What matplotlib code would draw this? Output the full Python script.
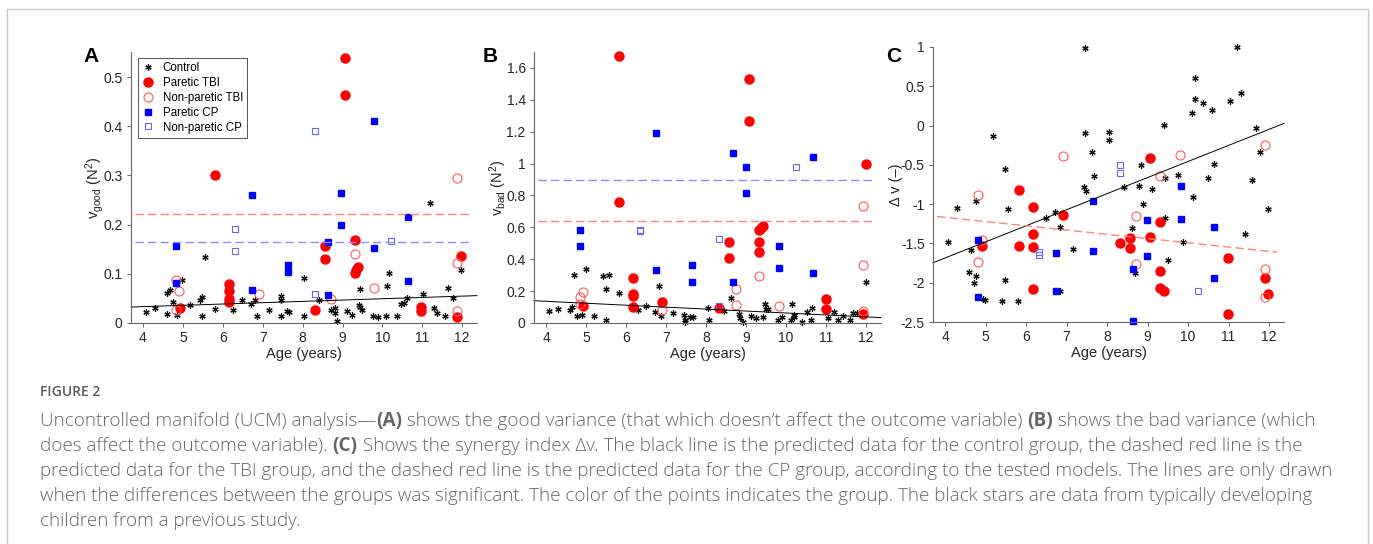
import numpy as np
import matplotlib
matplotlib.use("Agg")
import matplotlib.pyplot as plt
from matplotlib.ticker import FuncFormatter
from matplotlib.patches import Rectangle

plt.rcParams['font.family'] = ['Liberation Sans', 'DejaVu Sans']
plt.rcParams['mathtext.default'] = 'regular'
plt.rcParams['axes.unicode_minus'] = False

# ---------------- panel A : v_good ----------------
a_ctrl_age = [4.08, 4.29, 4.61, 4.68, 4.75, 4.61, 4.86, 4.99, 5.19, 5.42, 5.49, 5.49, 5.55, 5.80, 6.25,
              6.48, 6.70, 6.81, 6.86, 7.15, 7.45, 7.45, 7.47, 7.61, 7.66, 8.03, 8.03, 8.42, 8.70, 8.80,
              8.82, 8.87, 9.10, 9.23, 9.41, 9.44, 9.50, 9.44, 9.76, 9.89, 10.10, 10.11, 10.16, 10.36,
              10.47, 10.55, 10.61, 11.01, 11.18, 11.28, 11.37, 11.57, 11.64, 11.77, 11.96]
a_ctrl_val = [0.022, 0.030, 0.060, 0.068, 0.043, 0.019, 0.017, 0.087, 0.037, 0.047, 0.053, 0.015, 0.135,
              0.029, 0.027, 0.047, 0.039, 0.046, 0.014, 0.026, 0.054, 0.046, 0.014, 0.024, 0.022, 0.092,
              0.014, 0.046, 0.026, 0.030, 0.020, 0.005, 0.024, 0.017, 0.037, 0.033, 0.027, 0.070, 0.015,
              0.012, 0.015, 0.075, 0.102, 0.014, 0.039, 0.041, 0.051, 0.058, 0.245, 0.030, 0.020, 0.014,
              0.071, 0.051, 0.108]
a_ptbi_age = [9.05, 9.05, 5.81, 6.15, 6.15, 6.15, 6.15, 4.92, 8.56, 8.56, 9.31, 9.31, 9.39, 9.34, 8.31,
              10.96, 10.96, 11.96, 11.87]
a_ptbi_val = [0.539, 0.463, 0.300, 0.080, 0.066, 0.049, 0.043, 0.031, 0.157, 0.130, 0.168, 0.102, 0.114,
              0.107, 0.027, 0.033, 0.024, 0.136, 0.012]
a_ntbi_age = [4.82, 4.90, 4.82, 6.90, 8.72, 9.31, 9.80, 11.87, 11.87, 11.87]
a_ntbi_val = [0.088, 0.065, 0.027, 0.058, 0.049, 0.140, 0.071, 0.295, 0.121, 0.024]
a_pcp_age = [4.82, 4.82, 6.73, 6.73, 7.64, 7.64, 8.63, 8.63, 8.97, 8.97, 9.80, 9.80, 10.63, 10.63]
a_pcp_val = [0.157, 0.081, 0.260, 0.067, 0.118, 0.103, 0.165, 0.057, 0.265, 0.200, 0.411, 0.152, 0.215, 0.085]
a_ncp_age = [6.31, 6.31, 8.31, 8.31, 10.21]
a_ncp_val = [0.192, 0.147, 0.390, 0.059, 0.167]
a_ctrl_fit = [0.0226, 0.00267]      # intercept, slope
a_tbi_mean = 0.2215
a_cp_mean = 0.1646

# ---------------- panel B : v_bad ----------------
b_ctrl_age = [4.08, 4.31, 4.61, 4.65, 4.71, 4.78, 4.90, 5.00, 5.21, 5.42, 5.50, 5.51, 5.57, 5.82, 6.29,
              6.50, 6.72, 6.83, 6.87, 7.17, 7.46, 7.48, 7.48, 7.60, 7.67, 8.05, 8.06, 8.45, 8.63, 8.81,
              8.84, 8.91, 9.13, 9.24, 9.43, 9.47, 9.49, 9.54, 9.80, 9.90, 10.11, 10.14, 10.20, 10.20,
              10.40, 10.52, 10.64, 10.62, 11.05, 11.20, 11.30, 11.41, 11.60, 11.67, 11.77, 12.00]
b_ctrl_val = [0.073, 0.090, 0.084, 0.100, 0.304, 0.046, 0.052, 0.339, 0.046, 0.293, 0.021, 0.214, 0.304,
              0.186, 0.084, 0.107, 0.069, 0.230, 0.042, 0.063, 0.052, 0.021, 0.006, 0.038, 0.038, 0.094,
              0.021, 0.073, 0.159, 0.054, 0.034, 0.006, 0.042, 0.031, 0.038, 0.117, 0.088, 0.088, 0.021,
              0.038, 0.017, 0.119, 0.048, 0.038, 0.006, 0.069, 0.094, 0.021, 0.034, 0.069, 0.021, 0.042,
              0.021, 0.063, 0.063, 0.260]
b_ptbi_age = [5.83, 5.83, 6.17, 6.17, 6.17, 6.17, 4.92, 6.91, 8.33, 8.57, 8.57, 9.08, 9.08, 9.33, 9.41,
              9.37, 9.33, 9.33, 11.00, 11.00, 12.00, 11.91]
b_ptbi_val = [1.677, 0.758, 0.283, 0.180, 0.170, 0.100, 0.107, 0.130, 0.092, 0.505, 0.410, 1.529, 1.267,
              0.582, 0.609, 0.595, 0.507, 0.444, 0.149, 0.086, 0.997, 0.054]
b_ntbi_age = [4.84, 4.93, 4.84, 6.91, 8.75, 8.75, 9.33, 9.83, 11.91, 11.91, 11.91]
b_ntbi_val = [0.163, 0.193, 0.117, 0.084, 0.214, 0.115, 0.297, 0.109, 0.731, 0.366, 0.075]
b_pcp_age = [4.84, 4.84, 6.75, 6.75, 7.66, 7.66, 8.66, 8.66, 9.00, 9.00, 9.83, 9.83, 10.66, 10.66]
b_pcp_val = [0.584, 0.482, 1.192, 0.335, 0.364, 0.255, 1.068, 0.255, 0.976, 0.817, 0.484, 0.343, 1.041, 0.312]
b_ncp_age = [6.34, 6.34, 8.33, 8.33, 10.25]
b_ncp_val = [0.586, 0.578, 0.528, 0.109, 0.980]
b_ctrl_fit = [0.185, -0.01222]
b_tbi_mean = 0.637
b_cp_mean = 0.894

# ---------------- panel C : synergy index ----------------
c_ctrl_age = [4.07, 4.30, 4.63, 4.59, 4.71, 4.75, 4.77, 4.94, 4.99, 5.19, 5.48, 5.49, 5.56, 5.41, 5.81,
              6.49, 6.71, 6.84, 6.83, 7.15, 7.45, 7.45, 7.44, 7.48, 7.62, 7.67, 8.04, 8.04, 8.42, 8.62,
              8.69, 8.79, 8.84, 8.88, 9.12, 9.41, 9.44, 9.44, 9.51, 9.76, 9.88, 10.10, 10.13, 10.17,
              10.17, 10.37, 10.50, 10.59, 10.63, 11.03, 11.20, 11.30, 11.40, 11.58, 11.67, 11.78, 11.98]
c_ctrl_val = [-1.483, -1.047, -1.589, -1.860, -2.000, -1.919, -0.962, -2.212, -2.220, -0.136, -0.547,
              -1.970, -1.064, -2.237, -2.229, -1.178, -1.097, -1.292, -2.110, -1.568, 0.992, -0.093,
              -0.780, -0.831, -0.339, -0.636, -0.085, -0.186, -0.784, -1.305, -1.877, -0.763, -0.496,
              -0.996, -0.801, 0.013, -0.669, -1.182, -1.712, -0.623, -1.487, 0.165, -0.903, 0.606,
              0.339, 0.284, -0.669, 0.199, -0.483, 0.318, 1.000, 0.419, -1.377, -0.695, -0.025,
              -0.331, -1.059]
c_ptbi_age = [5.83, 6.16, 6.16, 6.16, 5.83, 4.91, 6.16, 6.90, 8.32, 8.56, 8.56, 9.07, 9.07, 9.31, 9.31,
              9.31, 9.40, 10.98, 10.98, 11.89, 11.97]
c_ptbi_val = [-0.818, -1.038, -1.386, -1.551, -1.538, -1.530, -2.076, -1.136, -1.496, -1.428, -1.564,
              -0.419, -1.415, -1.229, -1.852, -2.064, -2.106, -1.691, -2.398, -1.941, -2.144]
c_ntbi_age = [4.82, 4.91, 4.82, 6.90, 8.72, 8.72, 9.31, 9.81, 11.89, 11.89, 11.89]
c_ntbi_val = [-0.886, -1.462, -1.733, -0.381, -1.148, -1.767, -0.644, -0.377, -0.250, -1.822, -2.186]
c_pcp_age = [4.82, 4.82, 6.73, 6.73, 7.66, 7.66, 8.65, 8.65, 8.98, 8.98, 9.82, 9.82, 10.65, 10.65]
c_pcp_val = [-1.453, -2.186, -1.627, -2.106, -0.958, -1.602, -1.822, -2.487, -1.208, -1.657, -0.767,
             -1.195, -1.288, -1.945]
c_ncp_age = [8.32, 8.32, 6.32, 6.32, 10.24]
c_ncp_val = [-0.496, -0.610, -1.610, -1.653, -2.102]
c_ctrl_fit = [-2.503, 0.2046]
c_tbi_fit = [-0.952, -0.054]

caption_lines = [
    [("Uncontrolled manifold (UCM) analysis\u2014", False), ("(A)", True),
     (" shows the good variance (that which doesn\u2019t affect the outcome variable) ", False), ("(B)", True),
     (" shows the bad variance (which", False)],
    [("does affect the outcome variable). ", False), ("(C)", True),
     (" Shows the synergy index \u0394v. The black line is the predicted data for the control group, the dashed red line is the", False)],
    [("predicted data for the TBI group, and the dashed red line is the predicted data for the CP group, according to the tested models. The lines are only drawn", False)],
    [("when the differences between the groups was significant. The color of the points indicates the group. The black stars are data from typically developing", False)],
    [("children from a previous study.", False)],
]

##########################################################################

RED = (1, 0, 0)
RED_L = (1, 0.35, 0.35)
BLUE = (0, 0, 1)
BLUE_L = (0.4, 0.4, 1)
XLIM = (3.7, 12.37)
DASH_X = np.array([3.8, 12.2])
ASTERISK = (6, 2, 0)


def draw_groups(ax, ctrl, ptbi, ntbi, pcp, ncp):
    ax.plot(ctrl[0], ctrl[1], ls='none', marker=ASTERISK, color='#111111', ms=4.5, mew=0.9, label='Control')
    ax.plot(ptbi[0], ptbi[1], 'o', color=RED, ms=6.5, ls='none', label='Paretic TBI')
    ax.plot(ntbi[0], ntbi[1], 'o', mfc='none', mec=RED_L, ms=6.5, mew=0.8, ls='none', label='Non-paretic TBI')
    ax.plot(pcp[0], pcp[1], 's', color=BLUE, ms=5, ls='none', label='Paretic CP')
    ax.plot(ncp[0], ncp[1], 's', mfc='none', mec=BLUE_L, ms=5, mew=0.8, ls='none', label='Non-paretic CP')


def style(ax, ylabel):
    ax.set_xlim(*XLIM)
    ax.set_xticks(range(4, 13))
    for s in ['top', 'right']:
        ax.spines[s].set_visible(False)
    for s in ['left', 'bottom']:
        ax.spines[s].set_color('#666666')
        ax.spines[s].set_linewidth(0.8)
    ax.tick_params(direction='out', length=3, width=0.7, color='#666666', labelsize=10, labelcolor='#262626', pad=3)
    ax.set_xlabel('Age (years)', fontsize=10.5, color='#262626', labelpad=1)
    ax.set_ylabel(ylabel, fontsize=10.5, color='#262626', labelpad=-2)
    ax.yaxis.set_major_formatter(FuncFormatter(lambda v, p: '%g' % round(v, 3)))


fig = plt.figure(figsize=(13.73, 5.44), dpi=100)
W, H = 1373.0, 544.0

def axes_px(l, t, r, b):
    return fig.add_axes([l / W, 1 - b / H, (r - l) / W, (b - t) / H])

xs = np.array(XLIM)

# Panel A
axA = axes_px(131, 52, 477, 323)
draw_groups(axA, (a_ctrl_age, a_ctrl_val), (a_ptbi_age, a_ptbi_val), (a_ntbi_age, a_ntbi_val),
            (a_pcp_age, a_pcp_val), (a_ncp_age, a_ncp_val))
axA.plot(xs, a_ctrl_fit[0] + a_ctrl_fit[1] * xs, color='k', lw=0.7)
axA.plot(DASH_X, [a_tbi_mean] * 2, '--', color=(1, 0.5, 0.5), lw=1, dashes=(6, 3))
axA.plot(DASH_X, [a_cp_mean] * 2, '--', color=(0.55, 0.55, 1), lw=1, dashes=(6, 3))
axA.set_ylim(0, 0.551)
axA.set_yticks(np.arange(0, 0.51, 0.1))
style(axA, 'v$_{good}$ (N$^2$)')
leg = axA.legend(loc='upper left', bbox_to_anchor=(0.02, 0.978), fontsize=8.3, frameon=True, fancybox=False,
                 edgecolor='#262626', handletextpad=0.7, borderpad=0.35, labelspacing=0.25,
                 handlelength=1.1, borderaxespad=0)
leg.get_frame().set_linewidth(0.7)

# Panel B
axB = axes_px(534, 52, 881, 323)
draw_groups(axB, (b_ctrl_age, b_ctrl_val), (b_ptbi_age, b_ptbi_val), (b_ntbi_age, b_ntbi_val),
            (b_pcp_age, b_pcp_val), (b_ncp_age, b_ncp_val))
axB.plot(xs, b_ctrl_fit[0] + b_ctrl_fit[1] * xs, color='k', lw=0.7)
axB.plot(DASH_X, [b_tbi_mean] * 2, '--', color=(1, 0.5, 0.5), lw=1, dashes=(6, 3))
axB.plot(DASH_X, [b_cp_mean] * 2, '--', color=(0.55, 0.55, 1), lw=1, dashes=(6, 3))
axB.set_ylim(0, 1.7)
axB.set_yticks(np.arange(0, 1.61, 0.2))
style(axB, 'v$_{bad}$ (N$^2$)')

# Panel C
axC = axes_px(933, 47, 1284, 322)
draw_groups(axC, (c_ctrl_age, c_ctrl_val), (c_ptbi_age, c_ptbi_val), (c_ntbi_age, c_ntbi_val),
            (c_pcp_age, c_pcp_val), (c_ncp_age, c_ncp_val))
axC.plot(xs, c_ctrl_fit[0] + c_ctrl_fit[1] * xs, color='k', lw=0.7)
axC.plot(DASH_X, c_tbi_fit[0] + c_tbi_fit[1] * DASH_X, '--', color=(1, 0.5, 0.5), lw=1, dashes=(6, 3))
axC.set_ylim(-2.5, 1)
axC.set_yticks(np.arange(-2.5, 1.01, 0.5))
style(axC, '\u0394 v (\u2013)')

for ax in [axA, axB, axC]:
    for ln in ax.lines:
        ln.set_clip_on(False)

# panel letters
for x, y, s in [(91, 56, 'A'), (490, 56, 'B'), (894, 56, 'C')]:
    fig.text(x / W, 1 - y / H, s, fontsize=15, fontweight='bold', ha='center', va='center')

# frame around the figure
fig.patches.append(Rectangle((7 / W, -0.05), (1368 - 7) / W, 1.05 - 9 / H, transform=fig.transFigure,
                             fill=False, edgecolor='#c8c8c8', lw=1))

# caption
cap_font = ['Open Sans', 'DejaVu Sans']
fig.text(40 / W, 1 - 392 / H, 'FIGURE 2', fontsize=10, fontweight='semibold', color='#5a5a5a',
         family=cap_font, va='center')
renderer = fig.canvas.get_renderer()
y0 = 421
for i, segs in enumerate(caption_lines):
    x = 40.0
    y = 1 - (y0 + i * 25) / H
    for txt, bold in segs:
        t = fig.text(x / W, y, txt, fontsize=13.6, color='#666666', family=cap_font,
                     fontweight='bold' if bold else 'light', va='center')
        x += t.get_window_extent(renderer).width

fig.savefig('out.png', dpi=100)
